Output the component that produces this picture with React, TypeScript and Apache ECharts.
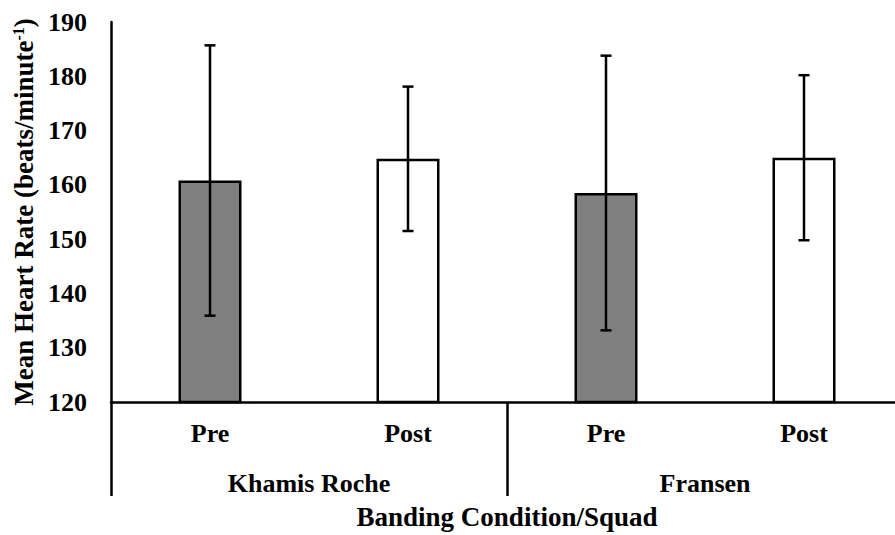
import React, { useEffect, useRef } from "react";
import * as echarts from "echarts";

const conditions = ["Pre", "Post", "Pre", "Post"];
const squads = ["Khamis Roche", "Fransen"];
const means = [160.8, 164.8, 158.5, 165.0];
const sds = [24.9, 13.3, 25.3, 15.2];
const barColors = ["#808080", "#ffffff", "#808080", "#ffffff"];
const yTicks = { min: 120, max: 190, interval: 10 };

const FONT = "'Liberation Serif', 'Times New Roman', serif";
const FS = 26;

export default function App() {
  const ref = useRef<HTMLDivElement>(null);
  useEffect(() => {
    if (!ref.current) return;
    const chart = echarts.init(ref.current, undefined, { renderer: "svg" });
    const errData = means.map((m, i) => [i, m - sds[i], m + sds[i]]);
    const txt = { fontFamily: FONT, fontWeight: "bold", fontSize: FS, color: "#000" };
    chart.setOption({
      animation: false,
      backgroundColor: "#ffffff",
      grid: { left: 111, width: 792, top: 22, height: 385, containLabel: false },
      xAxis: [
        {
          type: "category",
          data: conditions,
          position: "bottom",
          axisLine: { show: true, lineStyle: { color: "#000", width: 2.5 } },
          axisTick: { show: false },
          axisLabel: { margin: 18, ...txt },
          splitLine: { show: false },
        },
        {
          type: "category",
          data: squads,
          position: "bottom",
          axisLine: { show: false },
          axisTick: {
            show: true,
            length: 94,
            alignWithLabel: false,
            lineStyle: { color: "#000", width: 2.5 },
          },
          axisLabel: { margin: 68, ...txt },
          name: "Banding Condition/Squad",
          nameLocation: "middle",
          nameGap: 101,
          nameTextStyle: { ...txt, fontSize: 27 },
          splitLine: { show: false },
        },
      ],
      yAxis: {
        type: "value",
        min: yTicks.min,
        max: yTicks.max,
        interval: yTicks.interval,
        axisLine: { show: true, lineStyle: { color: "#000", width: 2.5 } },
        axisTick: { show: false },
        splitLine: { show: false },
        axisLabel: { margin: 24, ...txt },
        name: "{a|Mean Heart Rate (beats/minute}{s|-1}{a|)}",
        nameLocation: "middle",
        nameGap: 71,
        nameTextStyle: {
          color: "#000",
          rich: {
            a: { fontFamily: FONT, fontWeight: "bold", fontSize: 27, color: "#000" },
            s: {
              fontFamily: FONT,
              fontWeight: "bold",
              fontSize: 16,
              color: "#000",
              verticalAlign: "top",
              padding: [0, 0, 10, 0],
            },
          },
        },
      },
      series: [
        {
          type: "bar",
          xAxisIndex: 0,
          barWidth: 63,
          data: means.map((v, i) => ({
            value: v,
            itemStyle: { color: barColors[i], borderColor: "#000", borderWidth: 2.5 },
          })),
        },
        {
          type: "custom",
          xAxisIndex: 0,
          data: errData,
          z: 10,
          renderItem: (params: any, api: any) => {
            const x = api.value(0);
            const lo = api.coord([x, api.value(1)]);
            const hi = api.coord([x, api.value(2)]);
            const cap = 5.5;
            const style = { stroke: "#000", lineWidth: 2.5 };
            return {
              type: "group",
              children: [
                { type: "line", shape: { x1: hi[0], y1: hi[1], x2: lo[0], y2: lo[1] }, style },
                { type: "line", shape: { x1: hi[0] - cap, y1: hi[1], x2: hi[0] + cap, y2: hi[1] }, style },
                { type: "line", shape: { x1: lo[0] - cap, y1: lo[1], x2: lo[0] + cap, y2: lo[1] }, style },
              ],
            };
          },
        },
      ],
    });
    return () => chart.dispose();
  }, []);
  return (
    <div
      style={{
        position: "fixed",
        left: 0,
        top: 0,
        width: 895,
        height: 535,
        overflow: "hidden",
        background: "#fff",
      }}
    >
      <div ref={ref} style={{ width: 910, height: 535 }} />
    </div>
  );
}
